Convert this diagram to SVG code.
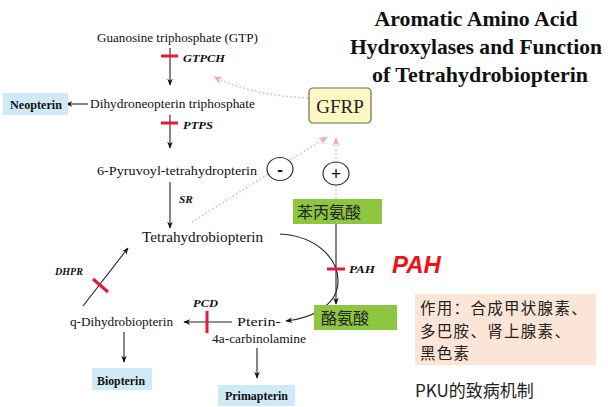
<svg xmlns="http://www.w3.org/2000/svg" width="608" height="407" viewBox="0 0 608 407">
<defs>
<marker id="ah" viewBox="0 0 10 10" refX="9" refY="5" markerWidth="7" markerHeight="7" orient="auto" markerUnits="userSpaceOnUse">
<path d="M0,1 L10,5 L0,9 L3,5 Z" fill="#111"/>
</marker>
<marker id="ahp" viewBox="0 0 10 10" refX="9" refY="5" markerWidth="9" markerHeight="9" orient="auto" markerUnits="userSpaceOnUse">
<path d="M0,1 L10,5 L0,9 L3,5 Z" fill="#f4a6b4"/>
</marker>
<style>
.t{font-family:"Liberation Serif",serif;font-size:13px;fill:#111}
.b{font-family:"Liberation Serif",serif;font-size:13px;font-weight:bold;fill:#111}
.e{font-family:"Liberation Serif",serif;font-size:11px;font-weight:bold;font-style:italic;fill:#111}
.title{font-family:"Liberation Serif",serif;font-size:22px;font-weight:bold;fill:#111;text-anchor:middle}
.cjk{font-family:"Noto Sans CJK SC",sans-serif;fill:#222}
.ln{stroke:#222;stroke-width:1.1;fill:none}
.red{stroke:#e8173c;stroke-width:3;fill:none}
.pink{stroke:#f4a6b4;stroke-width:1.4;stroke-dasharray:1.5 2.5;fill:none}
.blue{fill:#cfe9f7}
.green{fill:#8dc63f}
</style>
</defs>

<g id="title">
<text class="title" x="476" y="26" textLength="203" lengthAdjust="spacingAndGlyphs">Aromatic Amino Acid</text>
<text class="title" x="476" y="54" textLength="252" lengthAdjust="spacingAndGlyphs">Hydroxylases and Function</text>
<text class="title" x="480" y="82" textLength="216" lengthAdjust="spacingAndGlyphs">of Tetrahydrobiopterin</text>
</g>

<g id="connectors">
<line class="ln" x1="170" y1="48" x2="170" y2="85" marker-end="url(#ah)"/>
<line class="red" x1="161" y1="56" x2="178" y2="56"/>
<line class="ln" x1="170" y1="115" x2="170" y2="148" marker-end="url(#ah)"/>
<line class="red" x1="161" y1="123" x2="178" y2="123"/>
<line class="ln" x1="170" y1="182" x2="170" y2="228" marker-end="url(#ah)"/>
<line class="ln" x1="88" y1="104" x2="66" y2="104" marker-end="url(#ah)"/>
<line class="ln" x1="83" y1="306" x2="128" y2="248" marker-end="url(#ah)"/>
<line class="red" x1="93" y1="279" x2="108" y2="292"/>
<line class="ln" x1="232" y1="322" x2="184" y2="322" marker-end="url(#ah)"/>
<line class="red" x1="207" y1="311" x2="207" y2="333"/>
<line class="ln" x1="124" y1="332" x2="124" y2="362" marker-end="url(#ah)"/>
<line class="ln" x1="257" y1="348" x2="257" y2="378" marker-end="url(#ah)"/>
<path class="ln" d="M280,234 C316,236 338,258 338,281 C338,304 314,318 286,321" marker-end="url(#ah)" stroke="#444"/>
<line class="ln" x1="336" y1="224" x2="336" y2="304" marker-end="url(#ah)" stroke="#444"/>
<line class="red" x1="327" y1="269" x2="345" y2="269"/>
<path class="pink" d="M308,98 Q255,96 214,77" marker-end="url(#ahp)"/>
<line class="pink" x1="192" y1="222" x2="327" y2="137" marker-end="url(#ahp)"/>
<line class="pink" x1="336" y1="199" x2="336" y2="138" marker-end="url(#ahp)"/>
</g>

<g id="labels">
<text class="e" x="183" y="62" textLength="42" lengthAdjust="spacingAndGlyphs">GTPCH</text>
<text class="e" x="183" y="129" textLength="30" lengthAdjust="spacingAndGlyphs">PTPS</text>
<text class="e" x="179" y="203" textLength="14" lengthAdjust="spacingAndGlyphs">SR</text>
<text class="e" x="55" y="275" textLength="28" lengthAdjust="spacingAndGlyphs">DHPR</text>
<text class="e" x="193" y="307" textLength="25" lengthAdjust="spacingAndGlyphs">PCD</text>
<text class="e" x="349" y="273" textLength="26" lengthAdjust="spacingAndGlyphs">PAH</text>
</g>

<g id="gtp"><text class="t" x="97" y="42" textLength="161" lengthAdjust="spacingAndGlyphs">Guanosine triphosphate (GTP)</text></g>
<g id="dntp"><text class="t" x="90" y="108" textLength="165" lengthAdjust="spacingAndGlyphs">Dihydroneopterin triphosphate</text></g>
<g id="neopterin"><rect class="blue" x="3" y="93" width="65" height="22"/><text class="b" x="10" y="109" textLength="52" lengthAdjust="spacingAndGlyphs">Neopterin</text></g>
<g id="ptp"><text class="t" x="97" y="175" textLength="160" lengthAdjust="spacingAndGlyphs">6-Pyruvoyl-tetrahydropterin</text></g>
<g id="bh4"><text class="t" x="142" y="242" style="font-size:14px" textLength="121" lengthAdjust="spacingAndGlyphs">Tetrahydrobiopterin</text></g>
<g id="qbh2"><text class="t" x="70" y="326" textLength="103" lengthAdjust="spacingAndGlyphs">q-Dihydrobiopterin</text></g>
<g id="carbinolamine"><text class="t" x="237" y="326" textLength="44" lengthAdjust="spacingAndGlyphs">Pterin-</text><text class="t" x="212" y="343" textLength="94" lengthAdjust="spacingAndGlyphs">4a-carbinolamine</text></g>
<g id="biopterin"><rect class="blue" x="92" y="368" width="60" height="22"/><text class="b" x="97" y="385" textLength="48" lengthAdjust="spacingAndGlyphs">Biopterin</text></g>
<g id="primapterin"><rect class="blue" x="218" y="385" width="77" height="21"/><text class="b" x="225" y="400" textLength="63" lengthAdjust="spacingAndGlyphs">Primapterin</text></g>

<g id="gfrp"><rect x="309" y="88" width="62" height="35" rx="4" fill="#fbf8c4" stroke="#6b6b4a" stroke-width="1.2"/><text x="340" y="113" text-anchor="middle" style="font-family:'Liberation Serif',serif;font-size:19px;fill:#222">GFRP</text></g>
<g id="minus"><ellipse cx="280" cy="169" rx="13" ry="11.5" fill="#fff" stroke="#333" stroke-width="1.2"/><text x="280" y="175" text-anchor="middle" style="font-family:'Liberation Sans',sans-serif;font-size:17px;font-weight:bold;fill:#111">-</text></g>
<g id="plus"><ellipse cx="336" cy="173.5" rx="13" ry="11.5" fill="#fff" stroke="#333" stroke-width="1.2"/><text x="336" y="180" text-anchor="middle" style="font-family:'Liberation Sans',sans-serif;font-size:18px;fill:#111">+</text></g>

<g id="phe"><rect class="green" x="293" y="199" width="89" height="25"/><text class="cjk" x="297" y="218" style="font-size:16px">苯丙氨酸</text></g>
<g id="tyr"><rect class="green" x="314" y="305" width="83" height="25"/><text class="cjk" x="321" y="324" style="font-size:16px">酪氨酸</text></g>
<g id="pah"><text x="392" y="273" style="font-family:'Liberation Sans',sans-serif;font-size:24px;font-weight:bold;font-style:italic;fill:#ee1111">PAH</text></g>
<g id="function"><rect x="415" y="294" width="181" height="71" fill="#fbe5d6"/>
<text class="cjk" x="420" y="314" style="font-size:15.5px;letter-spacing:1.3px">作用：合成甲状腺素、</text>
<text class="cjk" x="420" y="336.6" style="font-size:15.5px;letter-spacing:1.3px">多巴胺、肾上腺素、</text>
<text class="cjk" x="420" y="359.2" style="font-size:15.5px;letter-spacing:1.3px">黑色素</text></g>
<g id="pku"><text class="cjk" x="415" y="397" style="font-size:17px">PKU的致病机制</text></g>
</svg>
